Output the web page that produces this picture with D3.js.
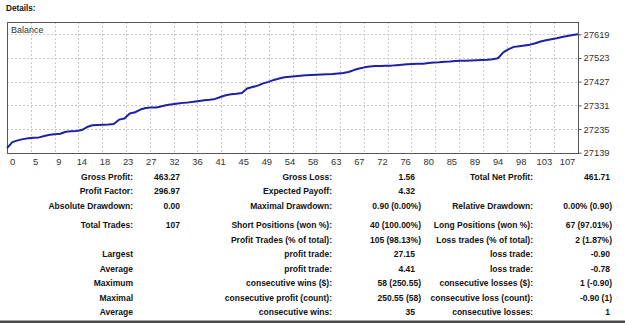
<!DOCTYPE html>
<html>
<head>
<meta charset="utf-8">
<script src="https://cdn.jsdelivr.net/npm/d3@7"></script>
<style>
    body { margin: 0; background: #fff; }
    svg text { font-family: "Liberation Sans", Arial, sans-serif; }
</style>
</head>
<body>
<svg id="report"></svg>
<script>
let W = 625, H = 323;

// balance after each trade, 0..107
let balance = [
    27157.5, 27182, 27189, 27194, 27198, 27200, 27201, 27207, 27212, 27214,
    27216, 27224, 27226, 27227, 27231, 27243, 27250, 27251, 27252, 27253,
    27255, 27273, 27278, 27298, 27303, 27314, 27320, 27322, 27322, 27327,
    27332, 27335, 27338, 27341, 27343, 27346, 27349, 27352, 27354, 27357,
    27365, 27372, 27376, 27378, 27381, 27399, 27405, 27411, 27420, 27426,
    27434, 27440, 27445, 27447, 27449, 27451, 27453, 27454, 27455, 27456,
    27457, 27458, 27460, 27462, 27466, 27474, 27480, 27485, 27488, 27490,
    27490, 27491, 27492, 27494, 27496, 27498, 27499, 27500, 27500, 27503,
    27505, 27506, 27508, 27509, 27511, 27512, 27512, 27513, 27514, 27515,
    27516, 27518, 27522, 27546, 27559, 27568, 27571, 27574, 27577, 27583,
    27590, 27595, 27599, 27603, 27608, 27612, 27616, 27619.2
];

let xTickLabels = ["0", "5", "9", "14", "18", "23", "27", "32", "36", "41", "45", "49",
    "54", "58", "63", "67", "72", "76", "80", "85", "89", "94", "98", "103", "107"];
let yTickValues = [27139, 27235, 27331, 27427, 27523, 27619];

// report table, one array per column
let labels1 = ["Gross Profit:", "Profit Factor:", "Absolute Drawdown:", "Total Trades:", "",
    "Largest", "Average", "Maximum", "Maximal", "Average"];
let values1 = ["463.27", "296.97", "0.00", "107", "", "", "", "", "", ""];
let labels2 = ["Gross Loss:", "Expected Payoff:", "Maximal Drawdown:", "Short Positions (won %):",
    "Profit Trades (% of total):", "profit trade:", "profit trade:", "consecutive wins ($):",
    "consecutive profit (count):", "consecutive wins:"];
let values2 = ["1.56", "4.32", "0.90 (0.00%)", "40 (100.00%)", "105 (98.13%)", "27.15", "4.41",
    "58 (250.55)", "250.55 (58)", "35"];
let labels3 = ["Total Net Profit:", "", "Relative Drawdown:", "Long Positions (won %):",
    "Loss trades (% of total):", "loss trade:", "loss trade:", "consecutive losses ($):",
    "consecutive loss (count):", "consecutive losses:"];
let values3 = ["461.71", "", "0.00% (0.90)", "67 (97.01%)", "2 (1.87%)", "-0.90", "-0.78",
    "1 (-0.90)", "-0.90 (1)", "1"];

let frame = {left: 7, top: 22, right: 578, bottom: 153};

let svg = d3.select("#report")
    .attr("width", W)
    .attr("height", H);

function drawChart() {
    let x = d3.scaleLinear()
        .domain([0, balance.length - 1])
        .range([frame.left, frame.right]);
    let y = d3.scaleLinear()
        .domain([27139, 27619])
        .range([frame.bottom - 0.3, 34.3]);
    let xLabelPos = d3.scalePoint()
        .domain(xTickLabels)
        .range([12, 567]);

    svg.append("text")
        .attr("x", 6)
        .attr("y", 11)
        .style("font-size", "8.2px")
        .style("font-weight", "bold")
        .attr("fill", "#111")
        .text("Details:");

    let grid = svg.append("g").attr("class", "grid");
    // vertical grid: 24 equal steps across the trades
    let steps = d3.range(1, 24).map(function (i) { return i * (balance.length - 1) / 24; });
    grid.selectAll("line.v").data(steps).enter()
        .append("line")
        .attr("class", "v")
        .attr("x1", function (d) { return Math.round(x(d)) + 0.5; })
        .attr("x2", function (d) { return Math.round(x(d)) + 0.5; })
        .attr("y1", frame.top)
        .attr("y2", frame.bottom)
        .attr("stroke", "#c8c8c8")
        .attr("stroke-dasharray", "2,2");
    grid.selectAll("line.h").data(yTickValues.slice(1)).enter()
        .append("line")
        .attr("class", "h")
        .attr("x1", frame.left)
        .attr("x2", frame.right)
        .attr("y1", function (d) { return Math.round(y(d)) + 0.5; })
        .attr("y2", function (d) { return Math.round(y(d)) + 0.5; })
        .attr("stroke", "#c8c8c8")
        .attr("stroke-dasharray", "2,2");

    svg.append("rect")
        .attr("x", frame.left + 0.5)
        .attr("y", frame.top + 0.5)
        .attr("width", frame.right - frame.left)
        .attr("height", frame.bottom - frame.top)
        .attr("fill", "none")
        .attr("stroke", "#555")
        .attr("stroke-width", 1);

    svg.append("text")
        .attr("x", 11)
        .attr("y", 33)
        .style("font-size", "9px")
        .attr("fill", "#333")
        .text("Balance");

    let line = d3.line()
        .x(function (d, i) { return x(i); })
        .y(function (d) { return y(d); });
    svg.append("path")
        .datum(balance)
        .attr("d", line)
        .attr("fill", "none")
        .attr("stroke", "#2020a6")
        .attr("stroke-width", 2)
        .attr("stroke-linejoin", "round");

    // right axis
    let yAxis = d3.axisRight(y)
        .tickValues(yTickValues)
        .tickSize(3)
        .tickPadding(2)
        .tickFormat(d3.format("d"));
    let ya = svg.append("g")
        .attr("transform", "translate(" + (frame.right + 0.5) + ",0)")
        .call(yAxis);
    ya.select(".domain").remove();
    ya.selectAll("line").attr("stroke", "#555");
    ya.selectAll("text")
        .style("font-size", "9.4px")
        .style("font-family", "'Liberation Sans', Arial, sans-serif")
        .attr("fill", "#333");

    // bottom labels
    let xAxis = d3.axisBottom(xLabelPos)
        .tickSize(0)
        .tickPadding(5);
    let xa = svg.append("g")
        .attr("transform", "translate(0," + frame.bottom + ")")
        .call(xAxis);
    xa.select(".domain").remove();
    xa.selectAll("text")
        .style("font-size", "9.4px")
        .style("font-family", "'Liberation Sans', Arial, sans-serif")
        .attr("fill", "#333");
}

function rowY(i) {
    return 177 + i * 14.5 + (i >= 3 ? 5 : 0);
}

function drawTable() {
    let table = svg.append("g").attr("class", "table");
    let cols = [
        {labels: labels1, values: values1, labelEnd: 133, valueEnd: 180, parenEnd: 180},
        {labels: labels2, values: values2, labelEnd: 332, valueEnd: 415, parenEnd: 421},
        {labels: labels3, values: values3, labelEnd: 533, valueEnd: 610, parenEnd: 612}
    ];
    cols.forEach(function (c) {
        table.append("g").selectAll("text").data(c.labels).enter()
            .append("text")
            .attr("x", c.labelEnd)
            .attr("y", function (d, i) { return rowY(i); })
            .attr("dy", "0.35em")
            .attr("text-anchor", "end")
            .style("font-size", "8.5px")
            .style("font-weight", "bold")
            .attr("fill", "#111")
            .text(function (d) { return d; });
        table.append("g").selectAll("text").data(c.values).enter()
            .append("text")
            .attr("x", function (d) { return d.indexOf("(") >= 0 ? c.parenEnd : c.valueEnd; })
            .attr("y", function (d, i) { return rowY(i); })
            .attr("dy", "0.35em")
            .attr("text-anchor", "end")
            .style("font-size", "8.5px")
            .style("font-weight", "bold")
            .attr("fill", "#111")
            .text(function (d) { return d; });
    });

    svg.append("rect")
        .attr("x", 0)
        .attr("y", 320.5)
        .attr("width", W)
        .attr("height", 2.5)
        .attr("fill", "#4a4a4a");
}

drawChart();
drawTable();
</script>
</body>
</html>
